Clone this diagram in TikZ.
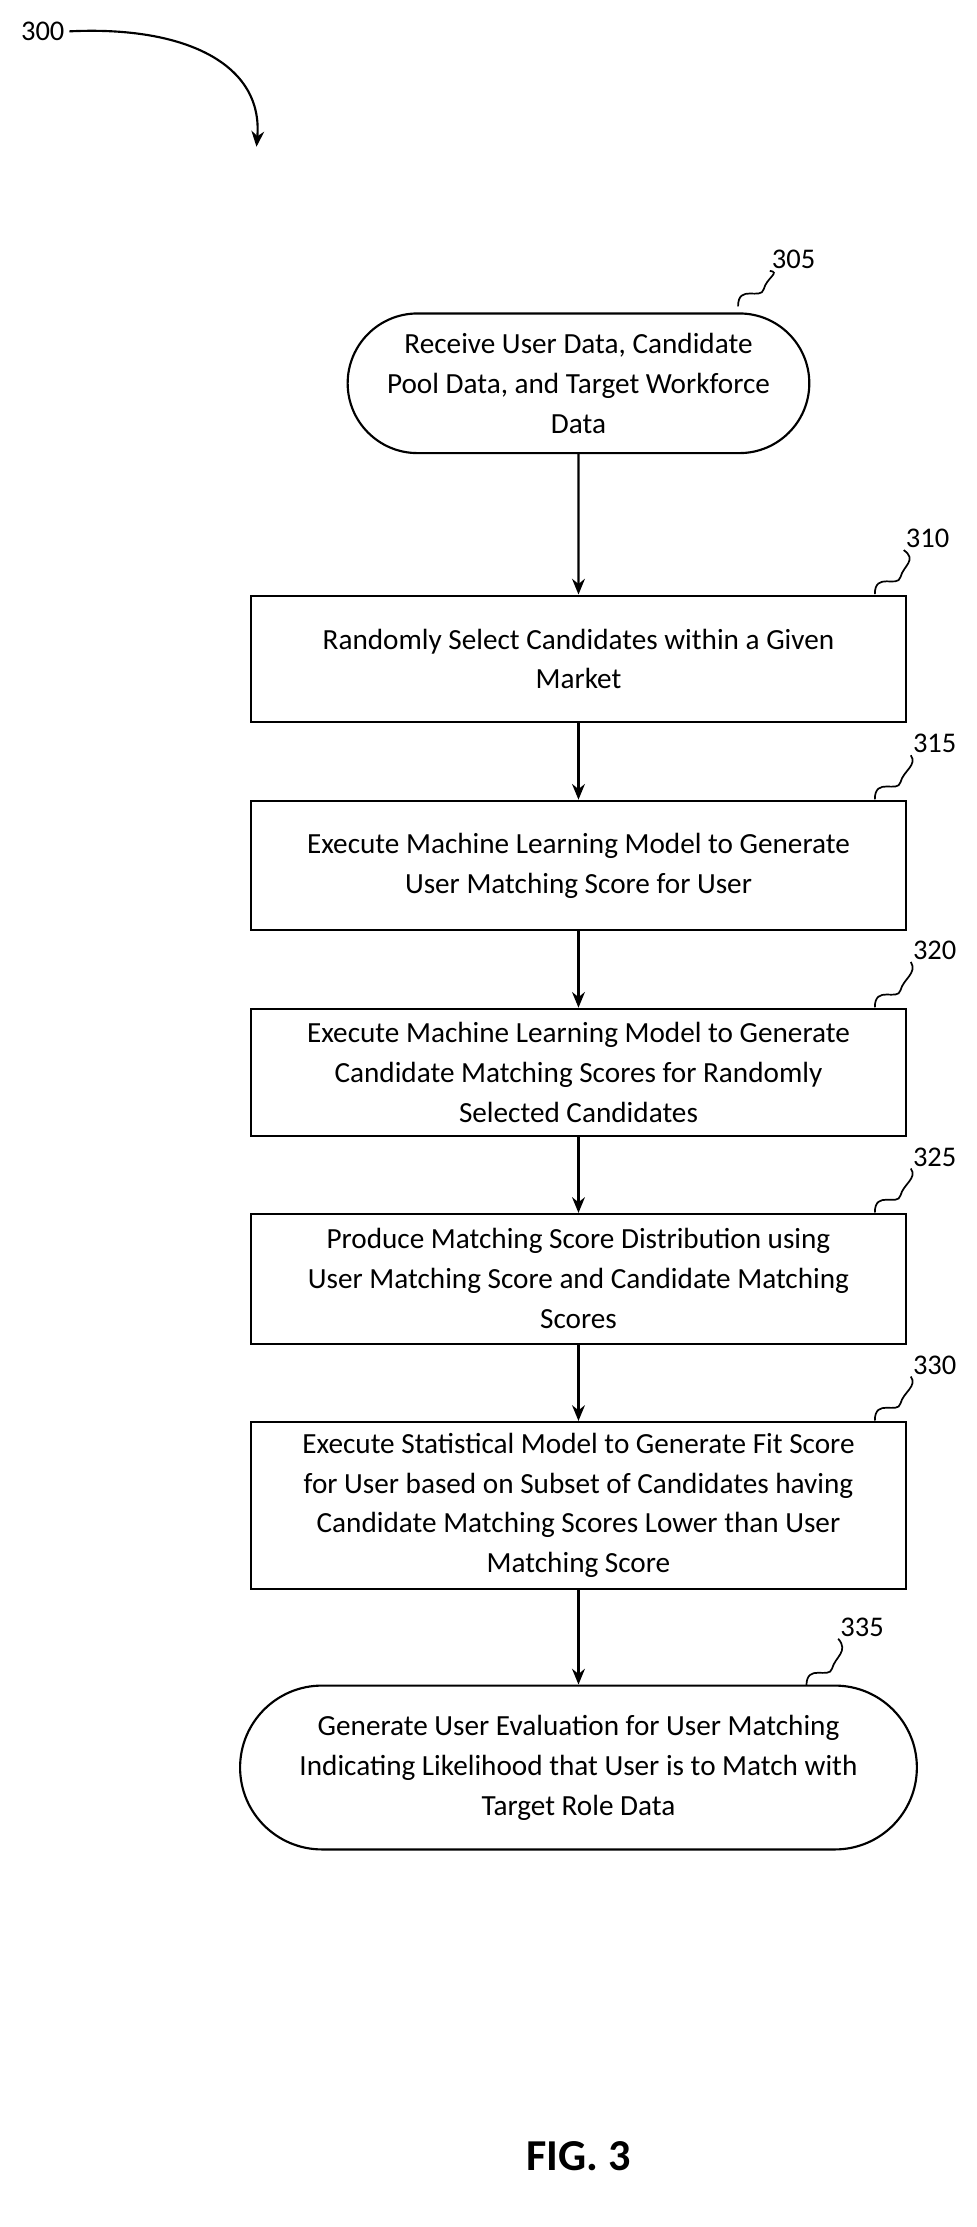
\documentclass[tikz,border=0pt]{standalone}
\usepackage{fontspec}
\setmainfont{Carlito}
\usetikzlibrary{arrows.meta,shapes.misc,calc}
\begin{document}
\begin{tikzpicture}[x=1pt,y=-1pt,
  box/.style={draw,line width=1.5pt,minimum width=460pt,align=center,font=\fontsize{20.5}{28}\selectfont,inner sep=4pt},
  term/.style={draw,line width=1.5pt,rounded rectangle,align=center,font=\fontsize{20.5}{28}\selectfont,inner sep=4pt},
  lab/.style={font=\fontsize{20}{22}\selectfont},
  arr/.style={line width=1.5pt,-{Stealth[length=11pt,width=9pt]}},
  sq/.style={line width=1.2pt}]
\useasboundingbox (0,0) rectangle (685,1563);
\node[lab] (l300) at (30,22) {300};
\coordinate (a300) at (180,103);
\draw[arr] (l300.east) .. controls (130,18) and (185,45) .. (a300);
\node[term,minimum width=332pt,minimum height=98pt] (n305) at (406,269) {Receive User Data, Candidate\\Pool Data, and Target Workforce\\Data};
\node[box,minimum height=89pt] (n310) at (406,462.5) {Randomly Select Candidates within a Given\\Market};
\node[box,minimum height=91pt] (n315) at (406,607.5) {Execute Machine Learning Model to Generate\\User Matching Score for User};
\node[box,minimum height=89pt] (n320) at (406,752.5) {Execute Machine Learning Model to Generate\\Candidate Matching Scores for Randomly\\Selected Candidates};
\node[box,minimum height=91pt] (n325) at (406,897.5) {Produce Matching Score Distribution using\\User Matching Score and Candidate Matching\\Scores};
\node[box,minimum height=117pt] (n330) at (406,1056.5) {Execute Statistical Model to Generate Fit Score\\for User based on Subset of Candidates having\\Candidate Matching Scores Lower than User\\Matching Score};
\node[term,minimum width=483pt,minimum height=115pt] (n335) at (406,1240.5) {Generate User Evaluation for User Matching\\Indicating Likelihood that User is to Match with\\Target Role Data};
\draw[arr] (n305) -- (n310);
\draw[arr] (n310) -- (n315);
\draw[arr] (n315) -- (n320);
\draw[arr] (n320) -- (n325);
\draw[arr] (n325) -- (n330);
\draw[arr] (n330) -- (n335);
\foreach \n/\lx/\ly/\sx/\sy in {305/557/182/518/215, 310/651/378/614/417, 315/656/522/614/561, 320/656/667/614/707, 325/656/812/614/851, 330/656/958/614/997, 335/605/1142/566/1183}{
  \node[lab] (l\n) at (\lx,\ly) {\n};
  \coordinate (s\n) at (\sx,\sy);
  \draw[sq] (s\n) .. controls ($(s\n)+(0,-16)$) and ($(s\n)+(16,-4)$) .. ($(s\n)+(18,-12)$) .. controls ($(s\n)+(20,-20)$) and ($(s\n)+(30,-24)$) .. ($(l\n.south west)+(2,-2)$);
}
\node[font=\bfseries\fontsize{31}{34}\selectfont] (fig) at (406,1513) {FIG. 3};
\end{tikzpicture}
\end{document}
